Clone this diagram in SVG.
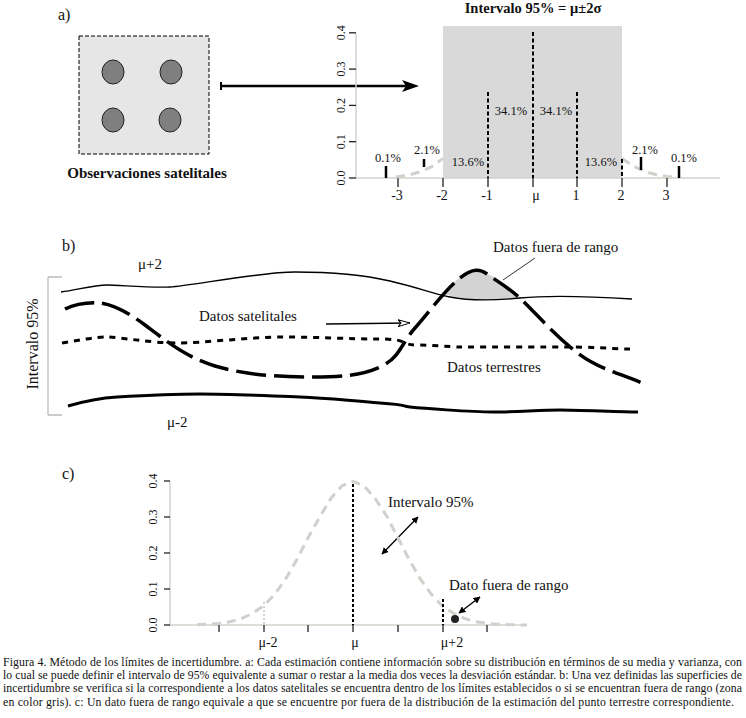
<svg xmlns="http://www.w3.org/2000/svg" width="746" height="718" viewBox="0 0 746 718" font-family="'Liberation Serif', 'DejaVu Serif', serif">
<defs>
<style>
text{font-family:'Liberation Serif','DejaVu Serif',serif;fill:#111}
.lbl{font-size:15px}
.pct{font-size:12.5px;text-anchor:middle}
.tk{font-size:14px;text-anchor:middle}
.yt{font-size:12px;text-anchor:middle}
.axis{stroke:#d4d2ca;stroke-width:1.5;fill:none}
.tick{stroke:#222;stroke-width:1.3}
.vd{stroke:#000;stroke-width:2;stroke-dasharray:4 2.5;fill:none}
.bar{stroke:#000;stroke-width:2.5}
.curve{stroke:#d0d0cc;stroke-width:3;stroke-dasharray:9 6;fill:none}
.cap{font-size:11.8px}
</style>
<marker id="ah" viewBox="0 0 10 10" refX="9" refY="5" markerWidth="7" markerHeight="7" orient="auto-start-reverse" markerUnits="userSpaceOnUse">
<path d="M0,0 L10,5 L0,10 Z" fill="#000"/>
</marker>
<marker id="oh" viewBox="0 0 12 8" refX="12" refY="4" markerWidth="12" markerHeight="8" orient="auto" markerUnits="userSpaceOnUse">
<path d="M0,0.5 L12,4 L0,7.5 L3,4 Z" fill="#fff" stroke="#000" stroke-width="1"/>
</marker>
</defs>

<!-- Panel a -->
<text x="58" y="20" style="font-size:16px">a)</text>
<g id="obs">
<rect x="79" y="36" width="130" height="118" fill="#e6e6e6" stroke="#000" stroke-width="1" stroke-dasharray="4 2"/>
<ellipse cx="113" cy="72" rx="11" ry="12" fill="#7f7f7f" stroke="#222" stroke-width="1"/>
<ellipse cx="171" cy="72" rx="11" ry="12" fill="#7f7f7f" stroke="#222" stroke-width="1"/>
<ellipse cx="113" cy="120" rx="11" ry="12" fill="#7f7f7f" stroke="#222" stroke-width="1"/>
<ellipse cx="170" cy="120" rx="11" ry="12" fill="#7f7f7f" stroke="#222" stroke-width="1"/>
<text x="147" y="178" text-anchor="middle" style="font-size:15px;font-weight:bold">Observaciones satelitales</text>
</g>

<g id="connectors">
<line x1="221" y1="86" x2="406" y2="86" stroke="#000" stroke-width="2.5"/>
<line x1="221" y1="82" x2="221" y2="90" stroke="#000" stroke-width="2"/>
<path d="M419,86 L402,80 L406,86 L402,92 Z" fill="#000"/>
<line x1="326" y1="324" x2="410" y2="323" stroke="#000" stroke-width="1.5" marker-end="url(#oh)"/>
<line x1="503" y1="280" x2="535" y2="258" stroke="#333" stroke-width="1"/>
<line x1="382" y1="554" x2="418" y2="517" stroke="#000" stroke-width="1.3" marker-start="url(#ah)" marker-end="url(#ah)"/>
<line x1="459" y1="613" x2="480" y2="597" stroke="#000" stroke-width="1.3" marker-start="url(#ah)" marker-end="url(#ah)"/>
</g>

<g id="chart-a">
<text x="533" y="13" text-anchor="middle" style="font-size:14.5px;font-weight:bold">Intervalo 95% = μ±2σ</text>
<rect x="443" y="26" width="179" height="152" fill="#d9d9d9"/>
<line class="axis" x1="356" y1="33" x2="356" y2="178"/>
<line class="axis" x1="356" y1="178" x2="720" y2="178"/>
<g class="tick">
<line x1="349" y1="178" x2="356" y2="178"/>
<line x1="349" y1="141.7" x2="356" y2="141.7"/>
<line x1="349" y1="105.4" x2="356" y2="105.4"/>
<line x1="349" y1="69.1" x2="356" y2="69.1"/>
<line x1="349" y1="32.8" x2="356" y2="32.8"/>
<line x1="398" y1="178" x2="398" y2="187"/>
<line x1="443" y1="178" x2="443" y2="187"/>
<line x1="488" y1="178" x2="488" y2="187"/>
<line x1="533" y1="178" x2="533" y2="187"/>
<line x1="577" y1="178" x2="577" y2="187"/>
<line x1="622" y1="178" x2="622" y2="187"/>
<line x1="667" y1="178" x2="667" y2="187"/>
</g>
<text class="yt" transform="translate(345,178) rotate(-90)">0.0</text>
<text class="yt" transform="translate(345,141.7) rotate(-90)">0.1</text>
<text class="yt" transform="translate(345,105.4) rotate(-90)">0.2</text>
<text class="yt" transform="translate(345,69.1) rotate(-90)">0.3</text>
<text class="yt" transform="translate(345,32.8) rotate(-90)">0.4</text>
<text class="tk" x="397" y="200">-3</text>
<text class="tk" x="442" y="200">-2</text>
<text class="tk" x="487" y="200">-1</text>
<text class="tk" x="536" y="200">μ</text>
<text class="tk" x="576" y="200">1</text>
<text class="tk" x="621" y="200">2</text>
<text class="tk" x="666" y="200">3</text>
<path class="curve" d="M396,177 L410,174.7 L421,171.6 L432,166.5 L443,158.4"/>
<path class="curve" d="M622,158.4 L634,166.5 L645,171.6 L656,174.7 L667,176.4 L679,177.3"/>
<line class="vd" x1="533" y1="32" x2="533" y2="178"/>
<line class="vd" x1="488" y1="92" x2="488" y2="178"/>
<line class="vd" x1="577" y1="92" x2="577" y2="178"/>
<line class="vd" x1="622" y1="159" x2="622" y2="178"/>
<line class="bar" x1="386" y1="166" x2="386" y2="178"/>
<line class="bar" x1="424" y1="159" x2="424" y2="167"/>
<line class="bar" x1="641" y1="157" x2="641" y2="170"/>
<line class="bar" x1="679" y1="166" x2="679" y2="178"/>
<text class="pct" x="388" y="162">0.1%</text>
<text class="pct" x="427" y="154">2.1%</text>
<text class="pct" x="468" y="166">13.6%</text>
<text class="pct" x="511" y="115">34.1%</text>
<text class="pct" x="556" y="115">34.1%</text>
<text class="pct" x="601" y="166">13.6%</text>
<text class="pct" x="645" y="154">2.1%</text>
<text class="pct" x="684" y="162">0.1%</text>
</g>

<!-- Panel b -->
<text x="62" y="251" style="font-size:16px">b)</text>
<g id="chart-b">
<path d="M48,277 L62,277 M48,277 L48,415 M48,415 L62,415" stroke="#bdbdbd" stroke-width="1.3" fill="none"/>
<text transform="translate(38,344) rotate(-90)" text-anchor="middle" style="font-size:16px">Intervalo 95%</text>
<path d="M445,294 C452,283 462,273 475,272 C488,271 505,282 521,298 C505,300 490,301 470,299 C460,298 450,296 445,294 Z" fill="#d3d3d3"/>
<path d="M61,292 C80,289 95,285 107,285 S150,288 170,287 S260,272 295,272 S360,274 390,281 S430,293 450,297 S490,301 520,298 S600,297 632,299" stroke="#000" stroke-width="1.3" fill="none"/>
<path d="M62,343 C80,340 95,337 107,337 S150,343 177,343 S250,337 283,337 S350,339 380,339 S400,345 417,345 S450,347 460,347 S550,347 570,347 S620,349 630,349" stroke="#000" stroke-width="3" stroke-dasharray="6 6" fill="none"/>
<path d="M65,309 C75,304 90,302 100,303 S125,310 145,325 S185,357 215,366 S280,377 310,377 S360,376 380,367 S400,345 415,328 S445,290 460,278 S482,270 490,276 S510,288 525,303 S555,335 575,351 S610,370 642,383" stroke="#000" stroke-width="3.5" stroke-dasharray="30 8" fill="none"/>
<path d="M68,406 C85,401 100,398 117,397 S170,394 200,394 S270,396 300,397 S350,401 380,403 S400,406 410,407 S470,412 493,412 S540,410 560,410 S620,412 638,412" stroke="#000" stroke-width="3" fill="none"/>
<text class="lbl" x="138" y="269">μ+2</text>
<text class="lbl" x="167" y="427">μ-2</text>
<text class="lbl" x="199" y="321">Datos satelitales</text>
<text class="lbl" x="493" y="252">Datos fuera de rango</text>
<text class="lbl" x="447" y="372">Datos terrestres</text>
</g>

<!-- Panel c -->
<text x="62" y="479" style="font-size:16px">c)</text>
<g id="chart-c">
<line class="axis" x1="170" y1="481" x2="170" y2="625"/>
<line class="axis" x1="170" y1="625" x2="527" y2="625"/>
<g class="tick">
<line x1="164" y1="625" x2="170" y2="625"/>
<line x1="164" y1="589" x2="170" y2="589"/>
<line x1="164" y1="553" x2="170" y2="553"/>
<line x1="164" y1="517" x2="170" y2="517"/>
<line x1="164" y1="481" x2="170" y2="481"/>
<line x1="219" y1="625" x2="219" y2="632"/>
<line x1="264" y1="625" x2="264" y2="632"/>
<line x1="308" y1="625" x2="308" y2="632"/>
<line x1="353" y1="625" x2="353" y2="632"/>
<line x1="398" y1="625" x2="398" y2="632"/>
<line x1="443" y1="625" x2="443" y2="632"/>
<line x1="487" y1="625" x2="487" y2="632"/>
</g>
<text class="yt" transform="translate(157,625) rotate(-90)">0.0</text>
<text class="yt" transform="translate(157,589) rotate(-90)">0.1</text>
<text class="yt" transform="translate(157,553) rotate(-90)">0.2</text>
<text class="yt" transform="translate(157,517) rotate(-90)">0.3</text>
<text class="yt" transform="translate(157,481) rotate(-90)">0.4</text>
<text class="tk" x="268" y="647">μ-2</text>
<text class="tk" x="355" y="647">μ</text>
<text class="tk" x="452" y="647">μ+2</text>
<path class="curve" d="M197,624.7 L208,624.3 L219,623.4 L230,621.7 L241,618.7 L252,613.6 L264,605.6 L275,593.9 L286,578.4 L297,559.3 L308,537.9 L320,516.6 L331,498.2 L342,485.8 L353,481.4 L364,485.8 L375,498.2 L387,516.6 L398,537.9 L409,559.3 L420,578.4 L431,593.9 L442,605.6 L454,613.6 L465,618.7 L476,621.7 L487,623.4 L498,624.3 L510,624.7 L527,625"/>
<line x1="264" y1="602" x2="264" y2="625" stroke="#c8c8c0" stroke-width="1.5" stroke-dasharray="2 2"/>
<line x1="353" y1="484" x2="353" y2="625" stroke="#000" stroke-width="2" stroke-dasharray="3 2"/>
<line x1="443" y1="599" x2="443" y2="625" stroke="#000" stroke-width="2" stroke-dasharray="3 2"/>
<circle cx="455" cy="619" r="4" fill="#222"/>
<text class="lbl" x="388" y="507">Intervalo 95%</text>
<text class="lbl" x="449" y="590">Dato fuera de rango</text>
</g>

<!-- Caption -->
<g id="caption">
<text class="cap" x="3" y="666" textLength="739" lengthAdjust="spacing">Figura 4. Método de los límites de incertidumbre. a: Cada estimación contiene información sobre su distribución en términos de su media y varianza, con</text>
<text class="cap" x="3" y="679" textLength="739" lengthAdjust="spacing">lo cual se puede definir el intervalo de 95% equivalente a sumar o restar a la media dos veces la desviación estándar. b: Una vez definidas las superficies de</text>
<text class="cap" x="3" y="692" textLength="739" lengthAdjust="spacing">incertidumbre se verifica si la correspondiente a los datos satelitales se encuentra dentro de los límites establecidos o si se encuentran fuera de rango (zona</text>
<text class="cap" x="3" y="706" textLength="731" lengthAdjust="spacing">en color gris). c: Un dato fuera de rango equivale a que se encuentre por fuera de la distribución de la estimación del punto terrestre correspondiente.</text>
</g>
</svg>
